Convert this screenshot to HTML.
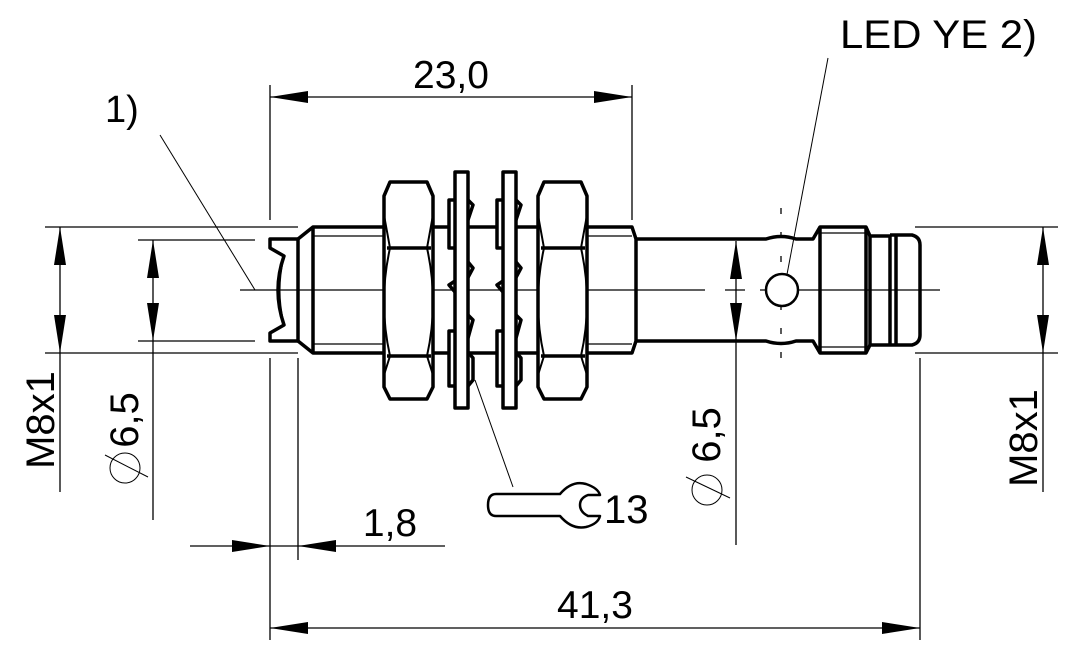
<!DOCTYPE html>
<html><head><meta charset="utf-8"><style>
html,body{margin:0;padding:0;background:#fff;}
svg{display:block;}
text{font-family:"Liberation Sans",sans-serif;fill:#000;}
</style></head><body>
<svg width="1072" height="660" viewBox="0 0 1072 660" xmlns="http://www.w3.org/2000/svg">
<defs>
<g id="ar"><polygon points="0,0 -38,-6 -38,6" fill="#000"/></g>
</defs>
<g stroke="#000" fill="none" stroke-width="1.3">
<line x1="240" y1="290" x2="412" y2="290"/>
<line x1="430" y1="290" x2="705" y2="290"/>
<line x1="725" y1="290" x2="745" y2="290"/>
<line x1="760" y1="290" x2="940" y2="290"/>
<line x1="45" y1="227" x2="298" y2="227"/>
<line x1="45" y1="353" x2="298" y2="353"/>
<line x1="60" y1="227" x2="60" y2="492"/>
<line x1="138" y1="240" x2="255" y2="240"/>
<line x1="138" y1="341" x2="255" y2="341"/>
<line x1="153" y1="240" x2="153" y2="520"/>
<line x1="915" y1="227" x2="1058" y2="227"/>
<line x1="915" y1="353" x2="1058" y2="353"/>
<line x1="1043" y1="227" x2="1043" y2="492"/>
<line x1="736" y1="241" x2="736" y2="545"/>
<line x1="270" y1="85" x2="270" y2="220"/>
<line x1="632" y1="85" x2="632" y2="220"/>
<line x1="270" y1="97" x2="632" y2="97"/>
<line x1="270" y1="358" x2="270" y2="640"/>
<line x1="920" y1="358" x2="920" y2="640"/>
<line x1="270" y1="628" x2="920" y2="628"/>
<line x1="298" y1="358" x2="298" y2="560"/>
<line x1="190" y1="546" x2="445" y2="546"/>
<line x1="160" y1="135" x2="255" y2="290" stroke-width="1"/>
<line x1="828" y1="58" x2="785" y2="285" stroke-width="1"/>
<line x1="475" y1="380" x2="513" y2="487" stroke-width="1"/>
<line x1="781" y1="208" x2="781" y2="375" stroke-dasharray="6,18"/>
</g>
<use href="#ar" transform="translate(60,227) rotate(-90)"/>
<use href="#ar" transform="translate(60,353) rotate(90)"/>
<use href="#ar" transform="translate(153,240) rotate(-90)"/>
<use href="#ar" transform="translate(153,341) rotate(90)"/>
<use href="#ar" transform="translate(1043,227) rotate(-90)"/>
<use href="#ar" transform="translate(1043,353) rotate(90)"/>
<use href="#ar" transform="translate(736,241) rotate(-90)"/>
<use href="#ar" transform="translate(736,341) rotate(90)"/>
<use href="#ar" transform="translate(270,97) rotate(180)"/>
<use href="#ar" transform="translate(632,97)"/>
<use href="#ar" transform="translate(270,628) rotate(180)"/>
<use href="#ar" transform="translate(920,628)"/>
<use href="#ar" transform="translate(270,546)"/>
<use href="#ar" transform="translate(298,546) rotate(180)"/>

<g stroke="#000" fill="none" stroke-width="3.5" stroke-linejoin="round">
<path d="M298,239 H270 V248 L284,256 Q272,290 284,325 L270,333 V341 H298 Z"/>
<path d="M283,260 Q276,290 283,321" stroke-width="2"/>
<path d="M298,239 L313,227 H632 L636,239 V341 L632,353 H313 L298,341"/>
<line x1="313" y1="227" x2="313" y2="353"/>
<line x1="313" y1="236" x2="385" y2="236" stroke-width="1.3"/>
<line x1="313" y1="344" x2="385" y2="344" stroke-width="1.3"/>
<line x1="586" y1="236" x2="632" y2="236" stroke-width="1.3"/>
<line x1="586" y1="344" x2="632" y2="344" stroke-width="1.3"/>
<path d="M636,239 H766 Q781,234 796,239 H813 L820,227 H866 L870,236 H890 M636,341 H766 Q781,346 796,341 H813 L820,353 H866 L870,345 H890"/>
<line x1="820" y1="227" x2="820" y2="353"/>
<line x1="866" y1="227" x2="866" y2="353"/>
<line x1="870" y1="236" x2="870" y2="345"/>
<path d="M890,236 V345 M890,235 H912 Q920,237 920,245 V335 Q920,343 912,345 H890"/>
<line x1="896" y1="235" x2="896" y2="345"/>
<line x1="816" y1="233" x2="866" y2="233" stroke-width="1.3"/>
<line x1="816" y1="347" x2="866" y2="347" stroke-width="1.3"/>
<circle cx="782" cy="290" r="16" stroke-width="2.5" fill="#fff"/>
<g id="nut">
<path d="M390,182 H427 L433,196 V387 L427,399 H390 L384,387 V196 Z" fill="#fff"/>
<path d="M387,248 H431 M387,356 H431"/>
<path d="M384,215 L390,248 Q378,302 390,356 L384,375 M433,215 L427,248 Q439,302 427,356 L433,375" stroke-width="2"/>
</g>
<use href="#nut" transform="translate(154,0)"/>
<g id="lw">
<path d="M449,200 H460 V248 H449 Z M449,331 H460 V386 H449 Z" fill="#fff"/>
<path d="M468,200 L473,205 L468,220 M468,262 L473,268 L465,283 M468,315 L473,320 L468,338 M468,352 L473,358 V380 L468,386"/>
<path d="M455,281 L449,285 L455,292"/>
<rect x="455" y="172" width="13" height="236" fill="#fff"/>
</g>
<use href="#lw" transform="translate(48,0)"/>
<path d="M510,494 H560 Q572,480 586,484 Q598,488 600,495 H588 Q580,498 580,505 Q580,512 588,516 H600 Q598,524 586,527 Q572,530 560,516 H496 Q488,516 488,505 Q488,494 496,494 Z" stroke-width="2.5"/>
</g>
<g stroke="#000" fill="none" stroke-width="1">
<circle cx="125" cy="468" r="15"/>
<line x1="105" y1="455" x2="148" y2="477"/>
<circle cx="707" cy="490" r="15"/>
<line x1="686" y1="477" x2="730" y2="498"/>
</g>
<text x="451" y="88" font-size="39" text-anchor="middle">23,0</text>
<text x="595" y="618" font-size="39" text-anchor="middle">41,3</text>
<text x="390" y="536" font-size="39" text-anchor="middle">1,8</text>
<text x="105" y="122" font-size="38">1)</text>
<text x="840" y="48" font-size="40" textLength="197" lengthAdjust="spacingAndGlyphs">LED YE 2)</text>
<text x="604" y="523" font-size="40">13</text>
<text transform="translate(54,420) rotate(-90)" font-size="40" text-anchor="middle">M8x1</text>
<text transform="translate(1037,438) rotate(-90)" font-size="40" text-anchor="middle">M8x1</text>
<text transform="translate(138,420) rotate(-90)" font-size="40" text-anchor="middle">6,5</text>
<text transform="translate(720,435) rotate(-90)" font-size="40" text-anchor="middle">6,5</text>
</svg>
</body></html>
